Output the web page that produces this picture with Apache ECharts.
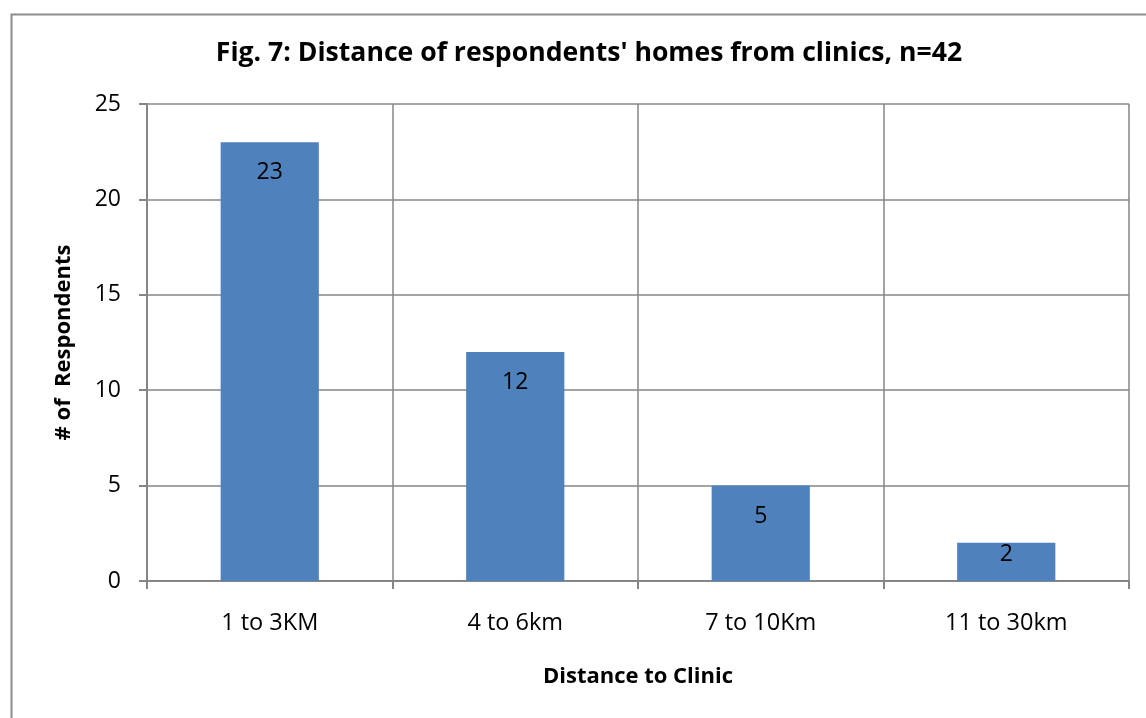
<!DOCTYPE html>
<html>
<head>
<meta charset="utf-8">
<script src="https://cdn.jsdelivr.net/npm/echarts@6/dist/echarts.min.js"></script>
<style>html,body{margin:0;padding:0;background:#fff;}#c{width:1146px;height:718px;}</style>
</head>
<body>
<div id="c"></div>
<script>
const categories = ['1 to 3KM', '4 to 6km', '7 to 10Km', '11 to 30km'];
const respondents = [23, 12, 5, 2];
const yTicks = [0, 5, 10, 15, 20, 25];

const font = "'Open Sans', 'Liberation Sans', sans-serif";
const chart = echarts.init(document.getElementById('c'), null, {renderer: 'canvas'});
chart.setOption({
  animation: false,
  backgroundColor: '#fff',
  textStyle: {fontFamily: font},
  graphic: [{
    type: 'rect', left: 9, top: 12,
    shape: {width: 1160, height: 730},
    style: {fill: 'none', stroke: '#8c8c8c', lineWidth: 2}, silent: true
  }],
  title: {
    text: "Fig. 7: Distance of respondents' homes from clinics, n=42",
    left: 584, textAlign: 'center', top: 35,
    textStyle: {fontFamily: font, fontSize: 26.6, fontWeight: 'bold', color: '#000'}
  },
  grid: {left: 147, right: 17, top: 104, bottom: 137, containLabel: false},
  xAxis: {
    type: 'category', data: categories,
    name: 'Distance to Clinic', nameLocation: 'middle', nameGap: 85,
    nameTextStyle: {fontFamily: font, fontSize: 22, fontWeight: 'bold', color: '#000'},
    axisLine: {lineStyle: {color: '#868686', width: 2}},
    axisTick: {show: true, length: 8, alignWithLabel: false, lineStyle: {color: '#868686', width: 2}},
    axisLabel: {fontFamily: font, fontSize: 23.5, color: '#000', margin: 30},
    splitLine: {show: true, lineStyle: {color: '#868686', width: 1.5}}
  },
  yAxis: {
    type: 'value', min: 0, max: 25, interval: 5,
    name: '# of  Respondents', nameLocation: 'middle', nameGap: 72, nameRotate: 90,
    nameTextStyle: {fontFamily: font, fontSize: 22, fontWeight: 'bold', color: '#000'},
    axisLine: {show: true, lineStyle: {color: '#868686', width: 2}},
    axisTick: {show: true, length: 8, lineStyle: {color: '#868686', width: 2}},
    axisLabel: {fontFamily: font, fontSize: 23, color: '#000', margin: 26,
      formatter: v => yTicks.includes(v) ? String(v) : ''},
    splitLine: {show: true, lineStyle: {color: '#868686', width: 1.5}}
  },
  series: [{
    type: 'bar',
    data: respondents.map(v => v < 3 ? {value: v, label: {distance: 0}} : v),
    barWidth: '40%',
    itemStyle: {color: '#4F81BD'},
    label: {show: true, position: 'insideTop', distance: 19,
      fontFamily: font, fontSize: 23, color: '#000'}
  }]
});
</script>
</body>
</html>
